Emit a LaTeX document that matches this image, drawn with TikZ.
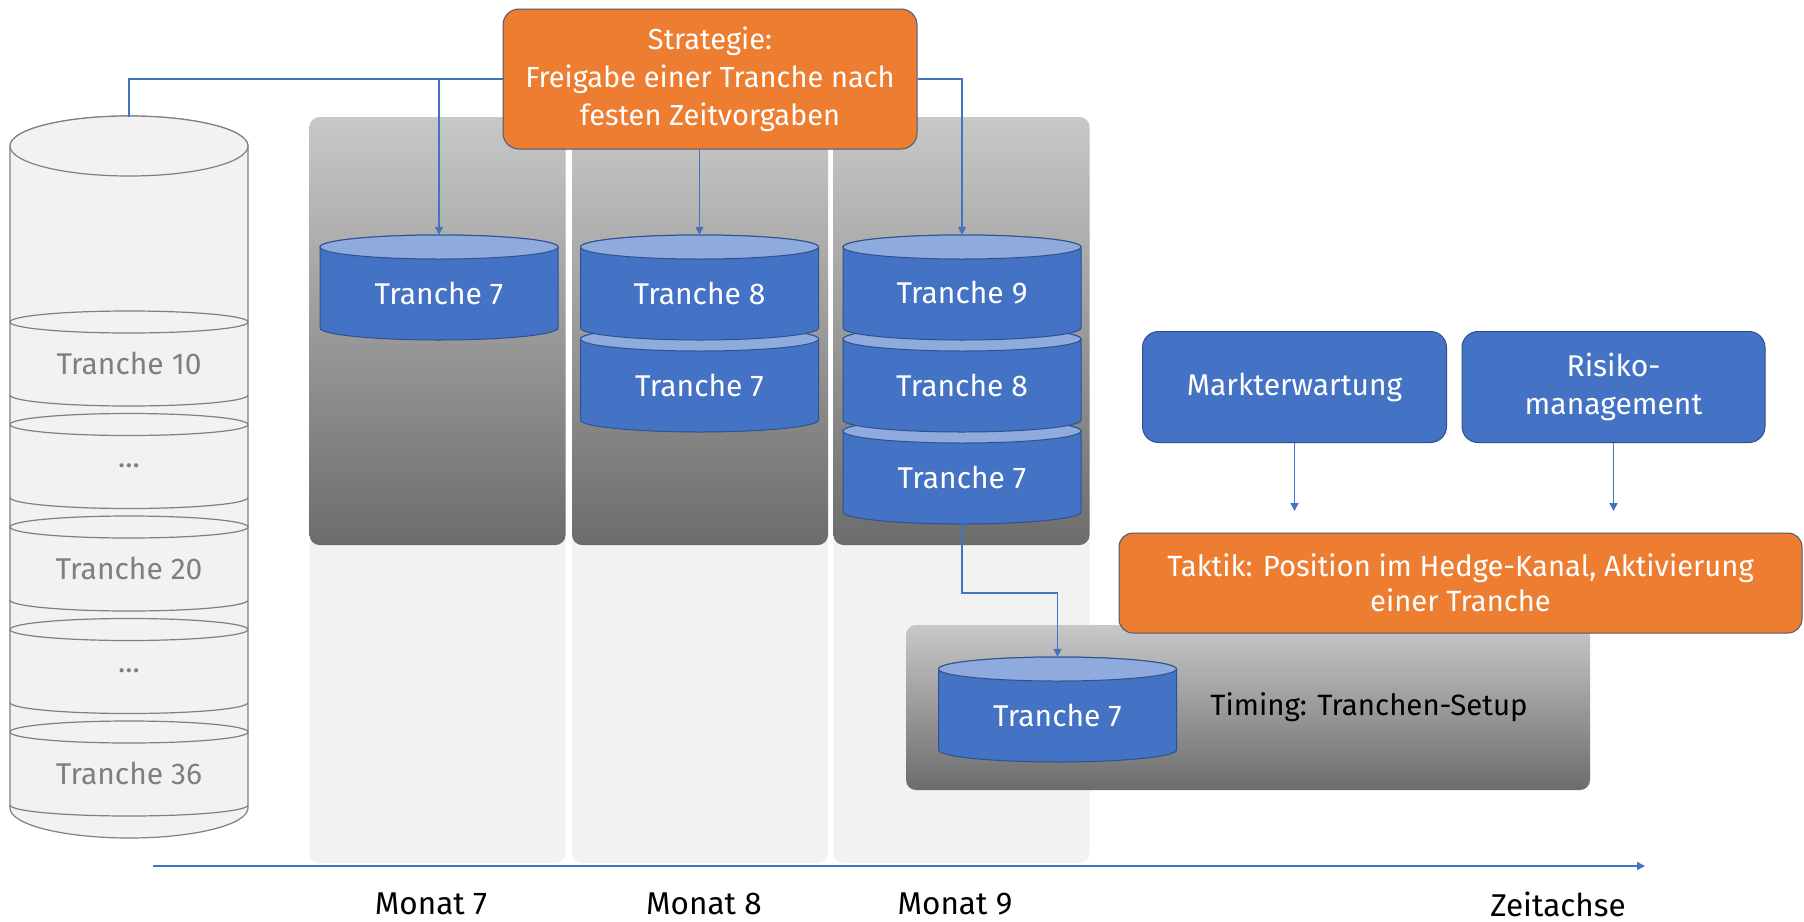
\documentclass[tikz,border=0pt]{standalone}
\usepackage{fontspec}
\setmainfont{Fira Sans}
\usetikzlibrary{arrows.meta,calc}
\definecolor{orangeF}{HTML}{ED7D31}
\definecolor{orangeL}{HTML}{4A5A70}
\definecolor{blueF}{HTML}{4472C4}
\definecolor{blueL}{HTML}{2F528F}
\definecolor{blueTop}{HTML}{8FAADC}
\definecolor{panelL}{HTML}{F2F2F2}
\definecolor{panelTop}{HTML}{C8C8C8}
\definecolor{panelBot}{HTML}{6C6C6C}
\definecolor{grayLine}{HTML}{808080}
\definecolor{grayText}{HTML}{7F7F7F}
\newcommand{\threedots}{...}
\newcommand{\bcyl}[4]{%
  \draw[blueL, line width=1pt, fill=blueF] ({#2-119},#3) -- ({#2-119},{#3+81})
    arc[start angle=180,end angle=360,x radius=119pt,y radius=12pt]
    -- ({#2+119},#3)
    arc[start angle=0,end angle=180,x radius=119pt,y radius=12pt] -- cycle;
  \draw[blueL, line width=1pt, fill=blueTop] (#2,#3) ellipse [x radius=119pt, y radius=12pt];
  \node[inner sep=0, minimum width=238pt, minimum height=105pt] (#1) at (#2,{#3+40.5}) {};
  \node[cyltext] (#1-t) at (#2,{#3+46}) {#4};
}
\begin{document}
\begin{tikzpicture}[x=1pt,y=-1pt,
  cyltext/.style={text=white, font=\fontsize{30}{36}\selectfont, inner sep=0},
  graytext/.style={text=grayText, font=\fontsize{30}{36}\selectfont, inner sep=0},
  lbl/.style={text=black, font=\fontsize{31.5}{36}\selectfont, inner sep=0},
  lpanel/.style={fill=panelL, rounded corners=10pt, minimum width=256pt, minimum height=746pt, inner sep=0},
  dpanel/.style={top color=panelTop, bottom color=panelBot, rounded corners=10pt, minimum width=256pt, minimum height=428pt, inner sep=0},
  obox/.style={fill=orangeF, draw=orangeL, line width=1pt, rounded corners=16pt, text=white, align=center, inner sep=0},
  bbox/.style={fill=blueF, draw=blueL, line width=1pt, rounded corners=16pt, text=white, align=center, inner sep=0},
  gline/.style={draw=grayLine, line width=1.2pt},
  conn/.style={draw=blueF, line width=1.6pt},
  arr/.style={conn, -{Triangle[width=8pt,length=8pt]}}
]
\fill[white] (0,0) rectangle (1804,921);
\useasboundingbox (0,0) rectangle (1804,921);

% month panels
\node[lpanel] (p7l) at (437.5,490) {};
\node[lpanel] (p8l) at (700,490) {};
\node[lpanel] (p9l) at (961.5,490) {};
\node[dpanel] (p7d) at (437.5,331) {};
\node[dpanel] (p8d) at (700,331) {};
\node[dpanel] (p9d) at (961.5,331) {};

% big storage cylinder
\draw[gline, fill=panelL] (10,146) -- (10,808)
  arc[start angle=180,end angle=360,x radius=119pt,y radius=30pt]
  -- (248,146) arc[start angle=0,end angle=180,x radius=119pt,y radius=30pt] -- cycle;
\draw[gline, fill=panelL] (129,146) ellipse [x radius=119pt, y radius=30pt];
\node[inner sep=0, minimum width=238pt, minimum height=721pt] (store) at (129,477.5) {};
\foreach \i/\lab in {0/Tranche 10,1/\threedots,2/Tranche 20,3/\threedots,4/Tranche 36}{
  \pgfmathsetmacro\ty{322+102.5*\i}
  \draw[gline] (129,\ty) ellipse [x radius=119pt, y radius=11pt];
  \draw[gline] (10,{\ty+73}) arc[start angle=180,end angle=360,x radius=119pt,y radius=11pt];
  \node[graytext] (seg\i) at (129,{\ty+41}) {\lab};
}

% blue cylinders
\bcyl{c7}{439}{247}{Tranche 7}
\bcyl{c8b}{699.5}{339}{Tranche 7}
\bcyl{c8a}{699.5}{247}{Tranche 8}
\bcyl{c9c}{962}{431}{Tranche 7}
\bcyl{c9b}{962}{339}{Tranche 8}
\bcyl{c9a}{962}{247}{Tranche 9}

% timing panel
\node[top color=panelTop, bottom color=panelBot, rounded corners=10pt, minimum width=684pt, minimum height=165pt, inner sep=0] (tpanel) at (1248,707.5) {};
\bcyl{c10}{1057.5}{669}{Tranche 7}
\node[lbl, font=\fontsize{29.4}{36}\selectfont] (timing) at (1369,707) {Timing: Tranchen-Setup};

% strategy box
\node[obox, minimum width=414pt, minimum height=140pt, font=\fontsize{29}{38}\selectfont] (strat) at (710,79)
  {Strategie:\\Freigabe einer Tranche nach\\festen Zeitvorgaben};

% connectors from strategy
\draw[conn] (strat.west) -| (store.north);
\draw[arr] (strat.west -| c7.north) -- (c7.north);
\draw[arr] (strat.south -| c8a.north) -- (c8a.north);
\draw[arr] (strat.east) -| (c9a.north);
\draw[arr] (c9c.south) -- ++(0,69) -| (c10.north);

% right boxes
\node[bbox, minimum width=304pt, minimum height=111pt, font=\fontsize{30}{38}\selectfont] (markt) at (1294.5,387) {Markterwartung};
\node[bbox, minimum width=303pt, minimum height=111pt, font=\fontsize{30}{38}\selectfont] (risk) at (1613.5,387) {Risiko-\\management};
\coordinate (mE) at (1295,511);
\coordinate (rE) at (1613.5,511);
\draw[arr] (markt.south) -- (markt.south |- mE);
\draw[arr] (risk.south) -- (rE);

\node[obox, rounded corners=14pt, minimum width=683pt, minimum height=100pt, font=\fontsize{29.2}{35}\selectfont] (taktik) at (1460.5,583)
  {Taktik: Position im Hedge-Kanal, Aktivierung\\einer Tranche};

% time axis
\coordinate (ax0) at (153,866);
\coordinate (ax1) at (1645,866);
\draw[arr] (ax0) -- (ax1);
\node[lbl] (m7) at (431,904) {Monat 7};
\node[lbl] (m8) at (704,904) {Monat 8};
\node[lbl] (m9) at (955,904) {Monat 9};
\node[lbl] (zeit) at (1558,904) {Zeitachse};
\end{tikzpicture}
\end{document}
